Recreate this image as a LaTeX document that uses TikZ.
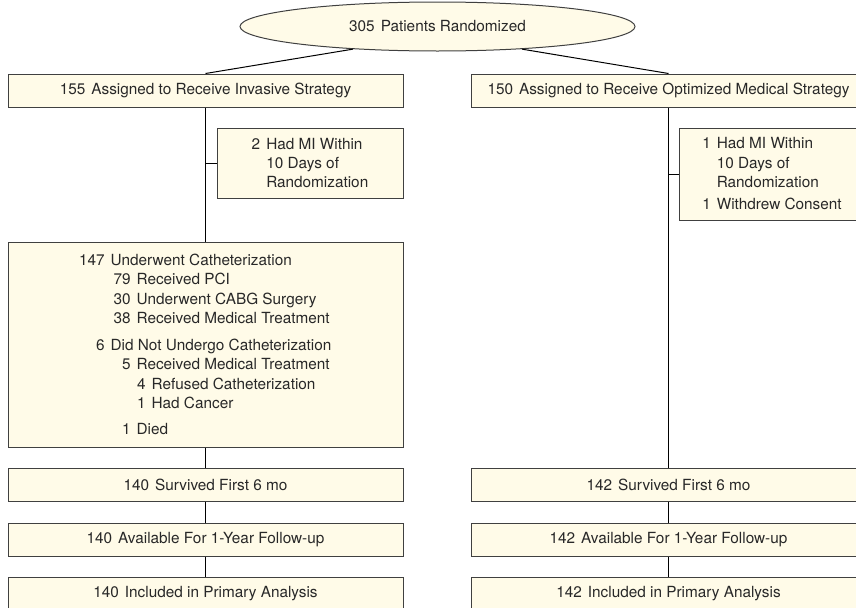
\documentclass[tikz,border=0pt]{standalone}
\usepackage{fontspec}
\setmainfont{TeX Gyre Heros}
\usetikzlibrary{shapes.geometric}

\definecolor{boxfill}{RGB}{255,251,232}
\definecolor{boxline}{RGB}{64,64,64}
\definecolor{boxtext}{RGB}{40,40,40}

% count, then label; #1 = width of the count column
\newcommand{\cntline}[3]{\makebox[#1][r]{#2}\hspace{4.5pt}#3}
\newcommand{\cnttext}[2]{#1\hspace{4.5pt}#2}

\tikzset{every picture/.style={line width=0.75pt}}
\tikzset{
	box/.style={draw=boxline, fill=boxfill, text=boxtext, inner sep=0pt,
		minimum width=296.25pt, minimum height=24.75pt,
		font=\fontsize{11.5}{14.6}\selectfont},
	sidebox/.style={box, minimum width=139.5pt, align=left},
	oval/.style={ellipse, draw=boxline, fill=boxfill, text=boxtext, inner sep=0pt,
		minimum width=296.25pt, minimum height=36.75pt,
		font=\fontsize{11.5}{14.6}\selectfont},
	link/.style={draw=black, line width=0.75pt}
}

\begin{document}
\begin{tikzpicture}[x=0.75pt,y=0.75pt,yscale=-1,xscale=1]
	\useasboundingbox (0,0) rectangle (856,607);
	\clip (0,0) rectangle (856,607);

	%Shape: Ellipse [id:rand]
	\node[oval] (rand) at (437.5,26.5) {\cnttext{305}{Patients Randomized}};

	%Shape: Rectangle [id:inv]
	\node[box] (inv) at (205.5,90.5) {\cnttext{155}{Assigned to Receive Invasive Strategy}};
	%Shape: Rectangle [id:med]
	\node[box] (med) at (668.5,90.5) {\cnttext{150}{Assigned to Receive Optimized Medical Strategy}};

	%Shape: Rectangle [id:invmi]
	\node[sidebox, minimum height=52.5pt] (invmi) at (310,163) {%
		\cntline{6.4pt}{2}{Had MI Within}\\
		\cntline{6.4pt}{}{10 Days of}\\
		\cntline{6.4pt}{}{Randomization}};
	%Shape: Rectangle [id:medmi]
	\node[sidebox, minimum height=69pt] (medmi) at (772,174) {%
		\cntline{6.4pt}{1}{Had MI Within}\\
		\cntline{6.4pt}{}{10 Days of}\\
		\cntline{6.4pt}{}{Randomization}\\[2pt]
		\cntline{6.4pt}{1}{Withdrew Consent}};

	%Shape: Rectangle [id:cath]
	\node[box, minimum height=153.75pt, align=left] (cath) at (205.5,344.5) {%
		\cntline{18.75pt}{147}{Underwent Catheterization}\\
		\cntline{38.25pt}{79}{Received PCI}\\
		\cntline{38.25pt}{30}{Underwent CABG Surgery}\\
		\cntline{38.25pt}{38}{Received Medical Treatment}\\[5.5pt]
		\cntline{18.75pt}{6}{Did Not Undergo Catheterization}\\
		\cntline{38.25pt}{5}{Received Medical Treatment}\\
		\cntline{49.5pt}{4}{Refused Catheterization}\\
		\cntline{49.5pt}{1}{Had Cancer}\\[5pt]
		\cntline{38.25pt}{1}{Died}};

	%Shape: Rectangle [id:invsurv]
	\node[box] (invsurv) at (205.5,484.5) {\cnttext{140}{Survived First 6 mo}};
	%Shape: Rectangle [id:invfol]
	\node[box] (invfol) at (205.5,539.5) {\cnttext{140}{Available For 1-Year Follow-up}};
	%Shape: Rectangle [id:invana]
	\node[box] (invana) at (205.5,593.5) {\cnttext{140}{Included in Primary Analysis}};

	%Shape: Rectangle [id:medsurv]
	\node[box] (medsurv) at (668.5,484.5) {\cnttext{142}{Survived First 6 mo}};
	%Shape: Rectangle [id:medfol]
	\node[box] (medfol) at (668.5,539.5) {\cnttext{142}{Available For 1-Year Follow-up}};
	%Shape: Rectangle [id:medana]
	\node[box] (medana) at (668.5,593.5) {\cnttext{142}{Included in Primary Analysis}};

	%Straight Lines [id:randinv]
	\draw[link] (rand.195) -- (inv.north);
	%Straight Lines [id:randmed]
	\draw[link] (rand.345) -- (med.north);

	%Straight Lines [id:invarm]
	\draw[link] (inv) -- (cath);
	\draw[link] (inv.south |- invmi.west) -- (invmi.west);
	\draw[link] (cath) -- (invsurv);
	\draw[link] (invsurv) -- (invfol);
	\draw[link] (invfol) -- (invana);

	%Straight Lines [id:medarm]
	\draw[link] (med) -- (medsurv);
	\draw[link] (med.south |- medmi.west) -- (medmi.west);
	\draw[link] (medsurv) -- (medfol);
	\draw[link] (medfol) -- (medana);

\end{tikzpicture}
\end{document}
